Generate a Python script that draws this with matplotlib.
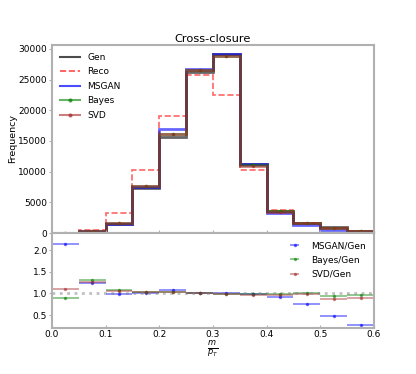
import numpy as np
import matplotlib
matplotlib.use("Agg")
import matplotlib.pyplot as plt
from matplotlib.lines import Line2D

bin_edges = [0.0, 0.05, 0.1, 0.15, 0.2, 0.25, 0.3, 0.35, 0.4, 0.45, 0.5, 0.55, 0.6]
gen   = [20, 200, 1500, 7400, 15600, 26300, 29200, 11300, 3600, 1700, 900, 400]
reco  = [30, 500, 3200, 10300, 19100, 25800, 22500, 10200, 3800, 1700, 850, 350]
msgan = [43, 250, 1470, 7470, 17000, 26800, 29200, 11190, 3310, 1280, 440, 104]
bayes = [18, 264, 1620, 7620, 16070, 26560, 28900, 11070, 3530, 1700, 840, 388]
svd   = [22, 254, 1590, 7620, 16070, 26560, 28900, 10960, 3490, 1670, 790, 356]

edges = np.array(bin_edges)
centers = 0.5 * (edges[:-1] + edges[1:])
halfw = 0.5 * np.diff(edges)
gen_a = np.array(gen, float)

spine_col = "#b0b0b0"
fs = 6.5

fig = plt.figure(figsize=(4.16, 3.74), dpi=100)
ax1 = fig.add_axes([0.125, 0.377, 0.774, 0.503])
ax2 = fig.add_axes([0.125, 0.123, 0.774, 0.254], sharex=ax1)

ax1.stairs(gen_a, edges, color="black", lw=2, alpha=0.6)
ax1.stairs(np.array(reco, float), edges, color="red", lw=1.2, ls="--", alpha=0.6)
ax1.stairs(np.array(msgan, float), edges, color="blue", lw=2, alpha=0.6)
ax1.stairs(np.array(bayes, float), edges, color="green", lw=2, alpha=0.5)
ax1.stairs(np.array(svd, float), edges, color="brown", lw=2, alpha=0.6)
ax1.errorbar(centers, bayes, yerr=np.sqrt(bayes), fmt=".", color="green", ms=3, lw=1, alpha=0.6)
ax1.errorbar(centers, svd, yerr=np.sqrt(svd), fmt=".", color="brown", ms=3, lw=1, alpha=0.6)
handles = [
    Line2D([], [], color="black", lw=1.5, alpha=0.7),
    Line2D([], [], color="red", lw=1.2, ls="--", alpha=0.7),
    Line2D([], [], color="blue", lw=1.5, alpha=0.7),
    Line2D([], [], color="green", lw=1.5, alpha=0.6, marker=".", ms=4),
    Line2D([], [], color="brown", lw=1.5, alpha=0.6, marker=".", ms=4),
]
ax1.legend(handles, ["Gen", "Reco", "MSGAN", "Bayes", "SVD"], loc="upper left",
           frameon=False, fontsize=fs, handlelength=2.2, labelspacing=0.6)
ax1.set_ylim(0, max(gen) * 1.05)
ax1.set_ylabel("Frequency", fontsize=fs + 0.3, labelpad=1)
ax1.set_title("Cross-closure", fontsize=8.2, pad=2)
ax1.set_yticks([0, 5000, 10000, 15000, 20000, 25000, 30000])
ax1.tick_params(axis="x", labelbottom=False)

for vals, col, lab in [(msgan, "blue", "MSGAN/Gen"), (bayes, "green", "Bayes/Gen"), (svd, "brown", "SVD/Gen")]:
    v = np.array(vals, float)
    r = v / gen_a
    ax2.errorbar(centers, r, xerr=halfw, fmt=".", color=col, ms=3, lw=1.2,
                 alpha=0.5, label=lab)
ax2.axhline(1.0, color="gray", ls=":", lw=2, alpha=0.5)
ax2.set_ylim(0.2, 2.4)
ax2.set_yticks([0.5, 1.0, 1.5, 2.0])
ax2.set_xticks([0.0, 0.1, 0.2, 0.3, 0.4, 0.5, 0.6])
ax2.set_xlabel(r"$\frac{m}{p_T}$", fontsize=fs + 2, labelpad=0)
ax2.legend(loc="upper right", frameon=False, fontsize=fs, labelspacing=0.6)

for ax in (ax1, ax2):
    for s in ax.spines.values():
        s.set_color(spine_col)
        s.set_linewidth(1.5)
    ax.tick_params(axis="y", labelsize=fs, color=spine_col, length=2.5, width=0.8, pad=1)
    ax.tick_params(axis="x", labelsize=fs, color=spine_col, length=2, width=0.8,
                   direction="in", pad=1.5)
    ax.set_xlim(0, 0.6)

fig.savefig("out.png", dpi=100)
